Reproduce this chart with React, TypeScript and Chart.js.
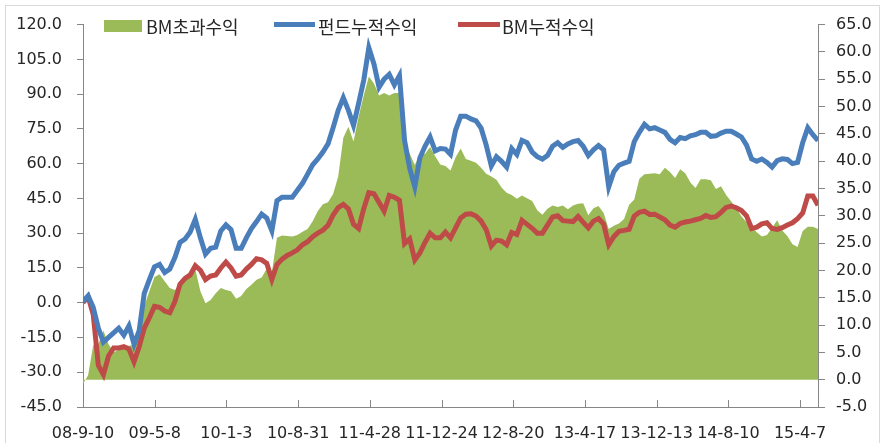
import React, { useEffect, useRef } from "react";
import { Chart, registerables } from "chart.js";

Chart.register(...registerables);

// ---- data ----
const TICK_LABELS = [
  "08-9-10", "09-5-8", "10-1-3", "10-8-31", "11-4-28", "11-12-24",
  "12-8-20", "13-4-17", "13-12-13", "14-8-10", "15-4-7",
];
const TICK_STEP_DAYS = 240; // calendar days between axis labels
const SPAN_DAYS = 2460; // 2008-09-10 .. ~2015-06-06

const LEFT_TICKS = { min: -45, max: 120, step: 15 };
const RIGHT_TICKS = { min: -5, max: 65, step: 5 };

const SERIES_NAMES = ["BM초과수익", "펀드누적수익", "BM누적수익"];

// 펀드누적수익 (left axis)
const fundCum = [
  0.5, 3, -2, -11, -17, -15, -13, -11, -14, -10,
  -18, -12, 4, 10, 15.5, 16.5, 13, 14.5, 19.5, 26,
  27.5, 30.5, 36, 28, 21, 23.5, 24, 31, 33.6, 31.5,
  23.5, 23.5, 28, 32, 35, 38.2, 36.5, 31, 44, 45.5,
  45.5, 45.5, 48.5, 51.5, 55.5, 59.5, 62, 65, 68.5, 75.5,
  83, 88.5, 83, 76.5, 86, 96, 110, 103, 93, 96.5,
  98.5, 94, 98, 70, 58, 50, 62.5, 67.5, 71.5, 65.5,
  66.5, 66.3, 64, 74.5, 80.5, 80.5, 79.3, 78.5, 75.3, 68,
  59, 63, 61, 58.5, 66.5, 64, 70, 69, 65, 63,
  62, 63.5, 67.5, 69, 67, 68.5, 69.5, 70, 67.5, 63.5,
  66, 67.8, 66, 50, 56.5, 59.3, 60.2, 61, 69.5, 73.5,
  77, 75, 75.5, 74.5, 73.5, 70.5, 69, 71.3, 70.8, 72,
  72.5, 73.5, 73.5, 71.8, 72, 73.2, 74, 74, 72.8, 71.5,
  68, 62, 61, 62, 60.5, 58.5, 61.3, 62.1, 61.8, 60,
  60.5, 69, 75.5, 72.5, 70,
];

// BM누적수익 (left axis)
const bmCum = [
  0, 2.5, -5, -27, -31, -23, -19.5, -19.5, -19, -20,
  -25.5, -19, -11, -6.5, -1.6, -2, -3.6, -4.3, 0.5, 8,
  10.5, 12, 16, 14, 10, 11.5, 12, 15, 17.5, 15,
  11.5, 12, 14.5, 16.5, 19, 18.5, 17, 10, 16.5, 18.8,
  20.4, 21.5, 22.8, 25, 26.3, 28.5, 30, 31.3, 33.4, 37.8,
  41, 42.4, 40.5, 33.8, 32, 40.6, 47.5, 47, 43.3, 39.5,
  46.3, 45.5, 44.2, 25.5, 27.5, 18.5, 21.5, 26, 30, 28,
  28, 30.5, 28, 32.3, 36.6, 38.2, 38.4, 37.4, 35.2, 31.5,
  24.5, 27, 26.6, 25, 30.3, 29.4, 35.5, 33.8, 32.1, 30,
  30, 33.5, 37, 37.5, 35.4, 35.2, 35, 37.2, 34.7, 32.3,
  35.2, 36.3, 34, 25, 28.5, 30.8, 31.2, 31.7, 37.4, 39,
  39.5, 38.1, 38.2, 37, 35.8, 33.5, 32.6, 34.2, 34.8, 35.2,
  35.8, 36.4, 37.6, 36.8, 37.1, 39, 41.1, 41.7, 41, 39.8,
  37.5, 32, 32.6, 34, 34.5, 32, 31.6, 32.4, 33.5, 34.5,
  36.3, 38.7, 46, 46, 42,
];

// BM초과수익 (right axis)
const excess = [
  -0.8, 0.8, 6.3, 6.5, 9, 6.5, 5, 5.5, 6.3, 6.2,
  6.4, 9.5, 13.5, 16.2, 18.8, 19.3, 18, 16.8, 16.4, 17.2,
  18.2, 18.8, 20.2, 16.2, 14, 14.6, 15.8, 16.8, 16.4, 16.2,
  14.8, 15.3, 16.6, 17.4, 18.3, 18.7, 20.3, 19.6, 26, 26.4,
  26.3, 26.2, 26.5, 27.1, 27.6, 29, 30.9, 32.1, 32.5, 34,
  37.2, 44.3, 46.3, 43.6, 48.2, 52, 55.5, 54.2, 52, 52.5,
  52, 52.5, 52.5, 43.5, 41.4, 39.3, 41.3, 41.3, 42.6, 40.9,
  39.4, 39.1, 38.3, 40.7, 42.3, 40.4, 40.1, 39.7, 38.8, 37.7,
  37.2, 36.6, 35.2, 34.2, 33.8, 33.1, 33.7, 33.2, 32.7, 31,
  30.2, 31.3, 31.9, 31.6, 31.9, 31.2, 31.9, 32.2, 32.3, 30.1,
  31.4, 31.8, 30.5, 27.6, 28.2, 28.6, 29.4, 32, 33, 36.8,
  37.6, 37.7, 37.8, 37.6, 38.8, 38, 36.9, 38.5, 37.8, 36.1,
  35.1, 36.7, 36.7, 36.5, 34.9, 35.4, 33.8, 32.6, 31.4, 29.9,
  28.8, 28, 27, 26.2, 26.5, 27.8, 29.2, 27.3, 26.3, 24.8,
  24.3, 27.2, 28, 28, 27.6,
];

// ---- styles ----
const GREEN = "#9BBB59";
const BLUE = "#4A7EBB";
const RED = "#BE4B48";
const AXIS = "#868686";
const TEXT = "#262626";
const TICK_FONT = { family: "'DejaVu Sans', sans-serif", size: 16 };
const LEGEND_FONT = "18px 'Noto Sans CJK KR', sans-serif";
const LINE_WIDTH = 5;

const W = 885;
const H = 443;

function toPoints(values: number[]) {
  const step = SPAN_DAYS / (values.length - 1);
  return values.map((v, i) => ({ x: i * step, y: v }));
}

const insideXTicks = {
  id: "insideXTicks",
  afterDraw(chart: any) {
    const sx = chart.scales.x;
    const { ctx, chartArea } = chart;
    ctx.save();
    ctx.strokeStyle = AXIS;
    ctx.lineWidth = 1;
    sx.ticks.forEach((t: any) => {
      const px = Math.round(sx.getPixelForValue(t.value)) + 0.5;
      ctx.beginPath();
      ctx.moveTo(px, chartArea.bottom);
      ctx.lineTo(px, chartArea.bottom - 7);
      ctx.stroke();
    });
    ctx.restore();
  },
};

const legendPlugin = {
  id: "customLegend",
  afterDraw(chart: any) {
    const ctx = chart.ctx;
    ctx.save();
    ctx.font = LEGEND_FONT;
    ctx.textBaseline = "middle";
    const cy = 27;
    ctx.fillStyle = GREEN;
    ctx.fillRect(104, 20, 38, 12);
    ctx.fillStyle = TEXT;
    ctx.fillText(SERIES_NAMES[0], 146, cy);
    ctx.strokeStyle = BLUE;
    ctx.lineWidth = 5;
    ctx.beginPath();
    ctx.moveTo(274, 24.5);
    ctx.lineTo(315, 24.5);
    ctx.stroke();
    ctx.fillText(SERIES_NAMES[1], 318, cy);
    ctx.strokeStyle = RED;
    ctx.beginPath();
    ctx.moveTo(458, 24.5);
    ctx.lineTo(500, 24.5);
    ctx.stroke();
    ctx.fillText(SERIES_NAMES[2], 502, cy);
    ctx.restore();
  },
};

export default function App() {
  const ref = useRef<HTMLCanvasElement | null>(null);

  useEffect(() => {
    if (!ref.current) return;
    const chart = new Chart(ref.current, {
      type: "line",
      data: {
        datasets: [
          {
            label: SERIES_NAMES[0],
            data: toPoints(excess),
            yAxisID: "y1",
            backgroundColor: GREEN,
            borderColor: GREEN,
            borderWidth: 0,
            pointRadius: 0,
            fill: "origin",
            tension: 0,
            order: 3,
          },
          {
            label: SERIES_NAMES[1],
            data: toPoints(fundCum),
            yAxisID: "y",
            borderColor: BLUE,
            backgroundColor: BLUE,
            borderWidth: LINE_WIDTH,
            pointRadius: 0,
            fill: false,
            tension: 0,
            order: 1,
          },
          {
            label: SERIES_NAMES[2],
            data: toPoints(bmCum),
            yAxisID: "y",
            borderColor: RED,
            backgroundColor: RED,
            borderWidth: LINE_WIDTH,
            pointRadius: 0,
            fill: false,
            tension: 0,
            order: 2,
          },
        ],
      },
      options: {
        responsive: false,
        animation: false,
        devicePixelRatio: 1,
        layout: { padding: { left: 0, right: 0, top: 21, bottom: 0 } },
        plugins: { legend: { display: false }, tooltip: { enabled: false } },
        scales: {
          x: {
            type: "linear",
            min: 0,
            max: SPAN_DAYS,
            afterBuildTicks: (scale: any) => {
              scale.ticks = TICK_LABELS.map((_, i) => ({ value: i * TICK_STEP_DAYS }));
            },
            afterFit: (scale: any) => {
              scale.height = H - 407;
            },
            grid: { display: false, drawTicks: false },
            border: { display: true, color: AXIS, width: 1 },
            ticks: {
              autoSkip: false,
              maxRotation: 0,
              padding: 17,
              color: TEXT,
              font: TICK_FONT,
              callback: (v: any) => TICK_LABELS[Math.round(Number(v) / TICK_STEP_DAYS)] ?? "",
            },
          },
          y: {
            type: "linear",
            position: "left",
            min: LEFT_TICKS.min,
            max: LEFT_TICKS.max,
            afterFit: (scale: any) => {
              scale.width = 83;
            },
            grid: { display: true, drawOnChartArea: false, drawTicks: true, tickLength: 6, color: AXIS },
            border: { display: true, color: AXIS, width: 1 },
            ticks: {
              stepSize: LEFT_TICKS.step,
              padding: 15,
              color: TEXT,
              font: TICK_FONT,
              callback: (v: any) => Number(v).toFixed(1),
            },
          },
          y1: {
            type: "linear",
            position: "right",
            min: RIGHT_TICKS.min,
            max: RIGHT_TICKS.max,
            afterFit: (scale: any) => {
              scale.width = W - 818;
            },
            grid: { display: true, drawOnChartArea: false, drawTicks: true, tickLength: 7, color: AXIS },
            border: { display: true, color: AXIS, width: 1 },
            ticks: {
              stepSize: RIGHT_TICKS.step,
              padding: 11,
              color: TEXT,
              font: TICK_FONT,
              callback: (v: any) => Number(v).toFixed(1),
            },
          },
        },
      },
      plugins: [insideXTicks, legendPlugin],
    });
    return () => chart.destroy();
  }, []);

  return (
    <div style={{ position: "absolute", left: 0, top: 0, width: W, height: H, overflow: "hidden", background: "#fff" }}>
      <div
        style={{
          position: "absolute",
          left: 5,
          top: 5,
          width: 875,
          height: 460,
          border: "1px solid #D9D9D9",
          boxSizing: "border-box",
        }}
      />
      <canvas ref={ref} width={W} height={H} style={{ position: "absolute", left: 0, top: 0 }} />
    </div>
  );
}
